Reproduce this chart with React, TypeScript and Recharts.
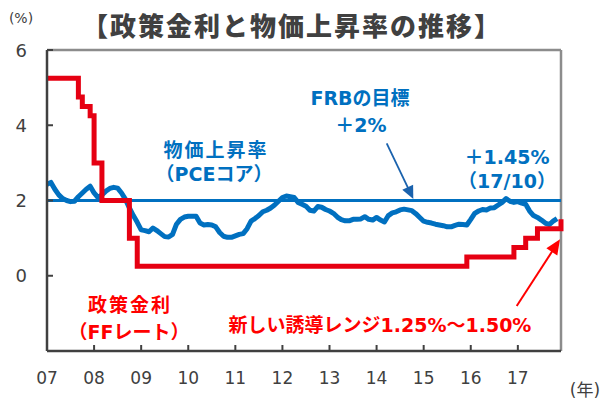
import React from 'react';
import { LineChart, Line, XAxis, YAxis, ReferenceLine } from 'recharts';

// Year labels at each January (month index from Jan 2007)
const yearLabels = ['07', '08', '09', '10', '11', '12', '13', '14', '15', '16', '17'];
const yearTicks = [0, 12, 24, 36, 48, 60, 72, 84, 96, 108, 120];
const yTicks = [0, 2, 4, 6];
const frbTarget = 2;

// Policy rate (FF target), monthly Jan 2007 - Dec 2017
const ffRate = [
  5.25, 5.25, 5.25, 5.25, 5.25, 5.25, 5.25, 5.25, 4.75, 4.5, 4.5, 4.25,
  3.0, 3.0, 2.0, 2.0, 2.0, 2.0, 2.0, 2.0, 2.0, 1.0, 1.0, 0.25,
  0.25, 0.25, 0.25, 0.25, 0.25, 0.25, 0.25, 0.25, 0.25, 0.25, 0.25, 0.25,
  0.25, 0.25, 0.25, 0.25, 0.25, 0.25, 0.25, 0.25, 0.25, 0.25, 0.25, 0.25,
  0.25, 0.25, 0.25, 0.25, 0.25, 0.25, 0.25, 0.25, 0.25, 0.25, 0.25, 0.25,
  0.25, 0.25, 0.25, 0.25, 0.25, 0.25, 0.25, 0.25, 0.25, 0.25, 0.25, 0.25,
  0.25, 0.25, 0.25, 0.25, 0.25, 0.25, 0.25, 0.25, 0.25, 0.25, 0.25, 0.25,
  0.25, 0.25, 0.25, 0.25, 0.25, 0.25, 0.25, 0.25, 0.25, 0.25, 0.25, 0.25,
  0.25, 0.25, 0.25, 0.25, 0.25, 0.25, 0.25, 0.25, 0.25, 0.25, 0.25, 0.5,
  0.5, 0.5, 0.5, 0.5, 0.5, 0.5, 0.5, 0.5, 0.5, 0.5, 0.5, 0.75,
  0.75, 0.75, 1.0, 1.0, 1.0, 1.25, 1.25, 1.25, 1.25, 1.25, 1.25, 1.5,
];

// Core PCE inflation (YoY %), monthly
const pceCore = [
  2.43, 2.48, 2.3, 2.15, 2.05, 2.0, 1.97, 1.98, 2.1, 2.2, 2.3, 2.38,
  2.2, 2.08, 2.15, 2.25, 2.32, 2.35, 2.33, 2.2, 2.03, 1.8, 1.6, 1.42,
  1.22, 1.2, 1.17, 1.27, 1.2, 1.12, 1.04, 1.03, 1.1, 1.37, 1.5, 1.56,
  1.58, 1.58, 1.58, 1.4, 1.35, 1.36, 1.35, 1.3, 1.15, 1.05, 1.02, 1.02,
  1.06, 1.1, 1.12, 1.25, 1.45, 1.52, 1.6, 1.7, 1.74, 1.8, 1.88, 1.98,
  2.08, 2.12, 2.1, 2.08, 1.95, 1.9, 1.85, 1.74, 1.72, 1.84, 1.82, 1.76,
  1.72, 1.66, 1.56, 1.49, 1.46, 1.46, 1.5, 1.5, 1.51, 1.57, 1.5, 1.48,
  1.55, 1.48, 1.43, 1.6, 1.67, 1.7, 1.75, 1.77, 1.75, 1.73, 1.65, 1.55,
  1.45, 1.42, 1.4, 1.37, 1.35, 1.33, 1.3, 1.3, 1.34, 1.37, 1.36, 1.35,
  1.5, 1.66, 1.72, 1.76, 1.75, 1.8, 1.81, 1.88, 1.95, 2.05, 1.98, 1.95,
  1.97, 1.93, 1.9, 1.72, 1.6, 1.55, 1.48, 1.4, 1.36, 1.45, 1.52,
];

const data = ffRate.map((ff, i) => ({ m: i, ff, pce: pceCore[i] }));

const AXIS = '#404040';
const BLUE = '#0070C0';
const RED = '#E60012';
const RED_TEXT = '#FF0000';
const NUM_FONT = '"DejaVu Sans", "Noto Sans CJK JP", sans-serif';
const JP_FONT = '"DejaVu Sans", "Noto Sans CJK JP", sans-serif';

const YTick = (props: any) => {
  const { x, y, payload } = props;
  return (
    <g>
      <line x1={x} x2={x + 6} y1={y} y2={y} stroke={AXIS} strokeWidth={2} />
      <text x={x - 20} y={y} textAnchor="end" dominantBaseline="central" fill={AXIS}
        fontSize={18} fontFamily={NUM_FONT}>{payload.value}</text>
    </g>
  );
};

const XTick = (props: any) => {
  const { x, y, payload, index } = props;
  return (
    <g>
      <line x1={x} x2={x} y1={y} y2={y - 6} stroke={AXIS} strokeWidth={2} />
      <text x={x} y={y + 27} textAnchor="middle" dominantBaseline="central" fill={AXIS}
        fontSize={17} fontFamily={NUM_FONT}>{yearLabels[index] ?? ''}</text>
    </g>
  );
};

function Arrow({ x1, y1, x2, y2, color, width, headLen, headHalf }: any) {
  const dx = x2 - x1;
  const dy = y2 - y1;
  const len = Math.sqrt(dx * dx + dy * dy);
  const ux = dx / len;
  const uy = dy / len;
  const bx = x2 - headLen * ux;
  const by = y2 - headLen * uy;
  const nx = -uy;
  const ny = ux;
  const pts = `${x2},${y2} ${bx + headHalf * nx},${by + headHalf * ny} ${bx - headHalf * nx},${by - headHalf * ny}`;
  return (
    <g>
      <line x1={x1} y1={y1} x2={bx + ux} y2={by + uy} stroke={color} strokeWidth={width} />
      <polygon points={pts} fill={color} />
    </g>
  );
}

const T = (p: any) => (
  <text textAnchor="middle" dominantBaseline="central" fontFamily={JP_FONT} fontWeight="bold" {...p} />
);

export default function App() {
  return (
    <div style={{ position: 'absolute', left: 0, top: 0, width: 616, height: 401, background: '#fff' }}>
      <LineChart width={616} height={401} data={data} margin={{ top: 50, right: 55, left: 0, bottom: 0 }}>
        <XAxis dataKey="m" type="number" domain={[0, 131]} ticks={yearTicks} interval={0}
          tickSize={0} tickMargin={0} tickLine={false} height={50}
          axisLine={{ stroke: AXIS, strokeWidth: 2.5 }} tick={<XTick />} />
        <YAxis type="number" domain={[-2, 6]} ticks={yTicks} interval={0} width={47}
          tickSize={0} tickMargin={0} tickLine={false}
          axisLine={{ stroke: AXIS, strokeWidth: 2.5 }} tick={<YTick />} />
        <ReferenceLine y={6} stroke="#8c8c8c" strokeWidth={2.5} />
        <ReferenceLine x={131} stroke="#8c8c8c" strokeWidth={2.5} />
        <ReferenceLine y={frbTarget} stroke={BLUE} strokeWidth={3} />
        <Line dataKey="pce" type="linear" stroke={BLUE} strokeWidth={5} dot={false}
          strokeLinejoin="round" isAnimationActive={false} />
        <Line dataKey="ff" type="stepAfter" stroke={RED} strokeWidth={5} dot={false}
          isAnimationActive={false} />
      </LineChart>
      <svg width={616} height={401} style={{ position: 'absolute', left: 0, top: 0, pointerEvents: 'none' }}>
        <text x={292} y={24} textAnchor="middle" dominantBaseline="central" fill={AXIS}
          fontSize={26} fontWeight={900} letterSpacing={2} fontFamily='"Noto Sans CJK JP", sans-serif'>
          【政策金利と物価上昇率の推移】
        </text>
        <text x={21} y={18} textAnchor="middle" dominantBaseline="central" fill={AXIS}
          fontSize={14} fontFamily={NUM_FONT}>(%)</text>
        <text x={585} y={390} textAnchor="middle" dominantBaseline="central" fill={AXIS}
          fontSize={17} fontFamily={NUM_FONT}>(年)</text>

        <T x={216} y={150} fill={BLUE} fontSize={19} letterSpacing={2}>物価上昇率</T>
        <T x={214} y={174} fill={BLUE} fontSize={19}>（PCEコア）</T>
        <T x={360} y={98} fill={BLUE} fontSize={19}>FRBの目標</T>
        <T x={361} y={125} fill={BLUE} fontSize={19}>＋2%</T>
        <T x={507} y={157} fill={BLUE} fontSize={19}>＋1.45%</T>
        <T x={507} y={181} fill={BLUE} fontSize={19}>（17/10）</T>
        <Arrow x1={386.7} y1={143.3} x2={413.3} y2={199} color="#1a62ad" width={1.8} headLen={13} headHalf={6} />

        <T x={130} y={305} fill={RED_TEXT} fontSize={19} letterSpacing={2}>政策金利</T>
        <T x={129} y={332} fill={RED_TEXT} fontSize={19}>（FFレート）</T>
        <T x={380} y={325} fill={RED_TEXT} fontSize={19}>新しい誘導レンジ1.25%～1.50%</T>
        <Arrow x1={516.7} y1={306} x2={560} y2={239.3} color={RED_TEXT} width={2} headLen={15} headHalf={6.5} />
      </svg>
    </div>
  );
}
